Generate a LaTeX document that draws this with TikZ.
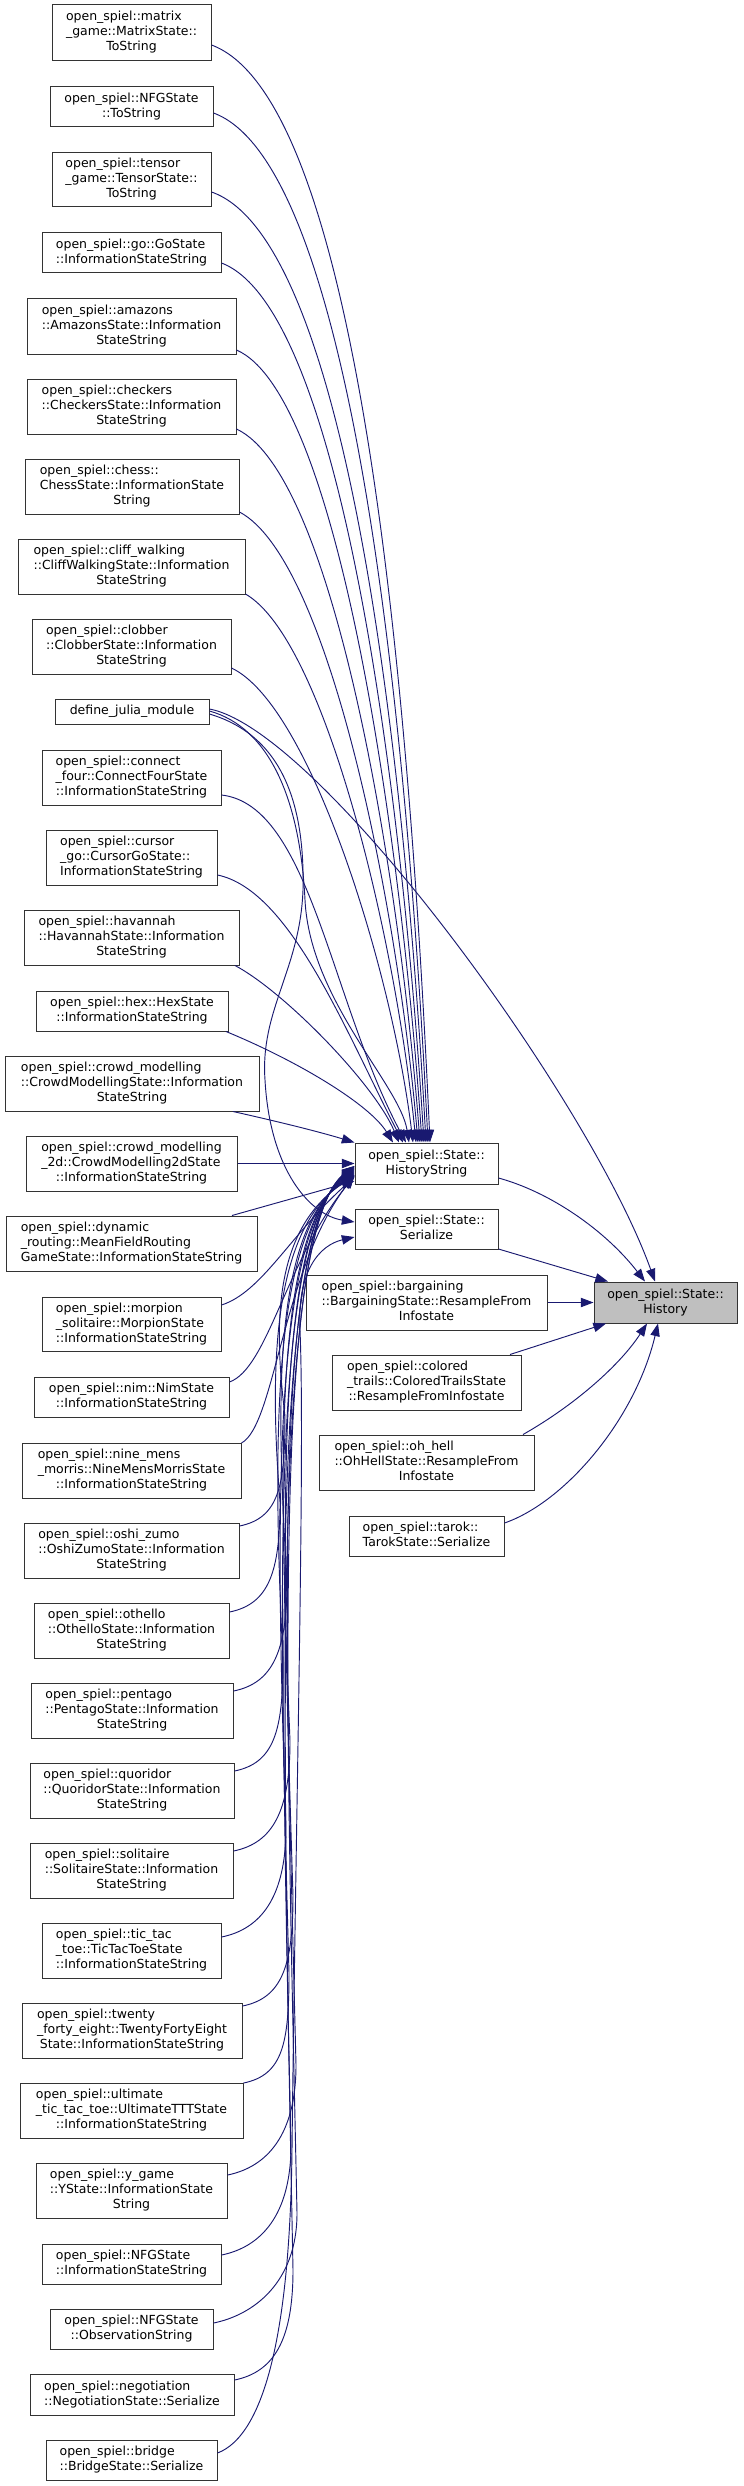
\documentclass[tikz,border=0pt]{standalone}
\usepackage{fontspec}
\setmainfont{DejaVu Sans}
\usetikzlibrary{arrows.meta,calc}
\definecolor{edgecol}{HTML}{191970}
\definecolor{boxcol}{HTML}{333333}
\definecolor{rootfill}{HTML}{BFBFBF}
\newcommand\twol[2]{\begin{tabular}{@{}l@{}}#1\\\multicolumn{1}{@{}c@{}}{#2}\end{tabular}}
\newcommand\bx[7][white]{\node[box,fill=#1,minimum width={(#5-#3)*0.75pt},minimum height={(#6-#4)*0.75pt}] (#2) at ({(#3+#5)/2},{(#4+#6)/2}) {#7};}
\newcommand\tope[7]{\draw[edge] (#1.east |- 0,#2) .. controls (#3,#4) and (#5,#6) .. (hs.north -| #7,0);}
\newcommand\bote[5]{\draw[edge] (#1.east |- 0,#2) .. controls ({#3+40},{#2-8}) and (#4,{#2-40}) .. (#4,{#2-110}) .. controls ({#4-10},{(#2-110)/2+625}) and (270,1230) .. (hs.west |- 0,#5);}
\tikzset{
  box/.style={draw=boxcol,line width=0.75pt,rectangle,inner sep=0pt,align=center,
    font=\fontsize{9.375pt}{11.25pt}\selectfont},
  edge/.style={draw=edgecol,line width=0.7pt,-{Triangle[length=9.5pt,width=7pt]},color=edgecol}
}
\begin{document}
\begin{tikzpicture}[x=0.75pt,y=-0.75pt]
\fill[white] (0,0) rectangle (743,2486);
\useasboundingbox (0,0) rectangle (743,2486);
\setlength\tabcolsep{0pt}
% left column
\bx{n1}{52}{5}{211}{61}{\twol{open\_spiel::matrix\\\_game::MatrixState::}{ToString}}
\bx{n2}{50}{87}{213}{127}{\twol{open\_spiel::NFGState}{::ToString}}
\bx{n3}{52}{153}{211}{207}{\twol{open\_spiel::tensor\\\_game::TensorState::}{ToString}}
\bx{n4}{42}{233}{221}{273}{\twol{open\_spiel::go::GoState}{::InformationStateString}}
\bx{n5}{27}{299}{236}{354}{\twol{open\_spiel::amazons\\::AmazonsState::Information}{StateString}}
\bx{n6}{27}{379}{236}{434}{\twol{open\_spiel::checkers\\::CheckersState::Information}{StateString}}
\bx{n7}{25}{459}{239}{514}{\twol{open\_spiel::chess::\\ChessState::InformationState}{String}}
\bx{n8}{18}{539}{245}{594}{\twol{open\_spiel::cliff\_walking\\::CliffWalkingState::Information}{StateString}}
\bx{n9}{32}{619}{231}{674}{\twol{open\_spiel::clobber\\::ClobberState::Information}{StateString}}
\bx{n10}{55}{699}{209}{724}{define\_julia\_module}
\bx{n11}{42}{750}{221}{805}{\twol{open\_spiel::connect\\\_four::ConnectFourState}{::InformationStateString}}
\bx{n12}{46}{830}{217}{885}{\twol{open\_spiel::cursor\\\_go::CursorGoState::}{InformationStateString}}
\bx{n13}{24}{910}{239}{965}{\twol{open\_spiel::havannah\\::HavannahState::Information}{StateString}}
\bx{n14}{36}{991}{228}{1031}{\twol{open\_spiel::hex::HexState}{::InformationStateString}}
\bx{n15}{5}{1056}{259}{1111}{\twol{open\_spiel::crowd\_modelling\\::CrowdModellingState::Information}{StateString}}
\bx{n16}{26}{1136}{237}{1191}{\twol{open\_spiel::crowd\_modelling\\\_2d::CrowdModelling2dState}{::InformationStateString}}
\bx{n17}{6}{1216}{257}{1271}{\twol{open\_spiel::dynamic\\\_routing::MeanFieldRouting}{GameState::InformationStateString}}
\bx{n18}{42}{1297}{221}{1351}{\twol{open\_spiel::morpion\\\_solitaire::MorpionState}{::InformationStateString}}
\bx{n19}{34}{1377}{229}{1417}{\twol{open\_spiel::nim::NimState}{::InformationStateString}}
\bx{n20}{22}{1443}{241}{1498}{\twol{open\_spiel::nine\_mens\\\_morris::NineMensMorrisState}{::InformationStateString}}
\bx{n21}{24}{1523}{239}{1578}{\twol{open\_spiel::oshi\_zumo\\::OshiZumoState::Information}{StateString}}
\bx{n22}{34}{1603}{229}{1658}{\twol{open\_spiel::othello\\::OthelloState::Information}{StateString}}
\bx{n23}{31}{1683}{233}{1738}{\twol{open\_spiel::pentago\\::PentagoState::Information}{StateString}}
\bx{n24}{30}{1763}{234}{1818}{\twol{open\_spiel::quoridor\\::QuoridorState::Information}{StateString}}
\bx{n25}{30}{1843}{233}{1898}{\twol{open\_spiel::solitaire\\::SolitaireState::Information}{StateString}}
\bx{n26}{42}{1923}{221}{1978}{\twol{open\_spiel::tic\_tac\\\_toe::TicTacToeState}{::InformationStateString}}
\bx{n27}{22}{2003}{242}{2058}{\twol{open\_spiel::twenty\\\_forty\_eight::TwentyFortyEight}{State::InformationStateString}}
\bx{n28}{20}{2083}{243}{2138}{\twol{open\_spiel::ultimate\\\_tic\_tac\_toe::UltimateTTTState}{::InformationStateString}}
\bx{n29}{36}{2163}{227}{2218}{\twol{open\_spiel::y\_game\\::YState::InformationState}{String}}
\bx{n30}{42}{2244}{221}{2284}{\twol{open\_spiel::NFGState}{::InformationStateString}}
\bx{n31}{50}{2309}{213}{2349}{\twol{open\_spiel::NFGState}{::ObservationString}}
\bx{n32}{30}{2374}{234}{2415}{\twol{open\_spiel::negotiation}{::NegotiationState::Serialize}}
\bx{n33}{46}{2440}{217}{2480}{\twol{open\_spiel::bridge}{::BridgeState::Serialize}}
% middle column
\bx{hs}{355}{1143}{498}{1184}{\twol{open\_spiel::State::}{HistoryString}}
\bx{ser}{355}{1209}{498}{1249}{\twol{open\_spiel::State::}{Serialize}}
\bx{barg}{306}{1275}{547}{1330}{\twol{open\_spiel::bargaining\\::BargainingState::ResampleFrom}{Infostate}}
\bx{col}{332}{1355}{521}{1410}{\twol{open\_spiel::colored\\\_trails::ColoredTrailsState}{::ResampleFromInfostate}}
\bx{oh}{319}{1435}{534}{1490}{\twol{open\_spiel::oh\_hell\\::OhHellState::ResampleFrom}{Infostate}}
\bx{tar}{349}{1516}{504}{1556}{\twol{open\_spiel::tarok::}{TarokState::Serialize}}
% root
\bx[rootfill]{hist}{594}{1282}{737}{1323}{\twol{open\_spiel::State::}{History}}
% edges into HistoryString from above
\tope{n1}{45}{360}{100}{410}{700}{430}
\tope{n2}{113}{355}{165}{408}{740}{428}
\tope{n3}{192}{350}{240}{406}{780}{426}
\tope{n4}{263}{345}{310}{404}{820}{424}
\tope{n5}{350}{340}{395}{402}{850}{422}
\tope{n6}{429}{335}{475}{400}{880}{420}
\tope{n7}{512}{330}{560}{398}{910}{418}
\tope{n8}{594}{325}{640}{396}{940}{416}
\tope{n9}{668}{310}{705}{392}{970}{413}
\tope{n11}{795}{310}{805}{330}{1000}{406}
\tope{n12}{875}{290}{890}{345}{1030}{403}
\draw[edge] (n13.south -| 235,0) .. controls (285,992) and (375,1085) .. (hs.north -| 399,0);
\draw[edge] (n14.south -| 226,0) .. controls (300,1062) and (370,1105) .. (hs.north -| 393,0);
\draw[edge] (n15.south -| 233,0) .. controls (280,1122) and (320,1132) .. (hs.north west);
\draw[edge] (n16.east) -- (hs.west |- n16.east);
\draw[edge] (n17.north -| 232,0) -- (hs.west |- 0,1181);
% define_julia_module
\draw[edge] (n10.east |- 0,709) .. controls (320,730) and (590,1100) .. (hist.north -| 655,0);
\draw[edge] (n10.east |- 0,711) .. controls (270,728) and (300,800) .. (305,900) .. controls (310,1000) and (400,1085) .. (hs.north -| 409,0);
\draw[edge] (n10.east |- 0,714) .. controls (280,735) and (305,800) .. (303,890) .. controls (300,970) and (260,1010) .. (265,1080) .. controls (270,1170) and (310,1215) .. (ser.west |- 0,1222);
% edges into HistoryString from below
\draw[edge] (n18.east |- 0,1305) .. controls (262,1292) and (290,1235) .. (hs.west |- 0,1177);
\draw[edge] (n19.east |- 0,1382) .. controls (268,1368) and (286,1260) .. (hs.west |- 0,1176);
\draw[edge] (n20.east |- 0,1443) .. controls (275,1425) and (282,1270) .. (hs.west |- 0,1175);
\bote{n21}{1526}{239}{285}{1176}
\bote{n22}{1612}{229}{280}{1175}
\bote{n23}{1691}{233}{287}{1174}
\bote{n24}{1771}{234}{283}{1173}
\bote{n25}{1851}{233}{290}{1172}
\bote{n26}{1937}{221}{286}{1171}
\bote{n27}{2006}{242}{293}{1170}
\bote{n28}{2083}{243}{289}{1169}
\bote{n29}{2175}{227}{296}{1168}
\bote{n30}{2255}{221}{291}{1167}
\bote{n31}{2323}{213}{297}{1166}
\bote{n32}{2380}{234}{293}{1166}
\draw[edge] (n33.east |- 0,2453) .. controls (265,2435) and (290,2330) .. (292,2150) .. controls (296,1800) and (305,1450) .. (300,1330) .. controls (297,1270) and (320,1245) .. (ser.west |- 0,1237);
% edges into History
\draw[edge] (hs.east |- 0,1178) .. controls (550,1192) and (605,1230) .. (hist.north -| 645,0);
\draw[edge] (ser.east |- 0,1249) -- (hist.north -| 608,0);
\draw[edge] (barg.east) -- (hist.west);
\draw[edge] (col.north -| 510,0) -- (hist.south -| 606,0);
\draw[edge] (oh.north -| 523,0) .. controls (575,1405) and (620,1365) .. (hist.south -| 647,0);
\draw[edge] (tar.east |- 0,1523) .. controls (565,1502) and (635,1420) .. (hist.south -| 658,0);
\end{tikzpicture}
\end{document}
